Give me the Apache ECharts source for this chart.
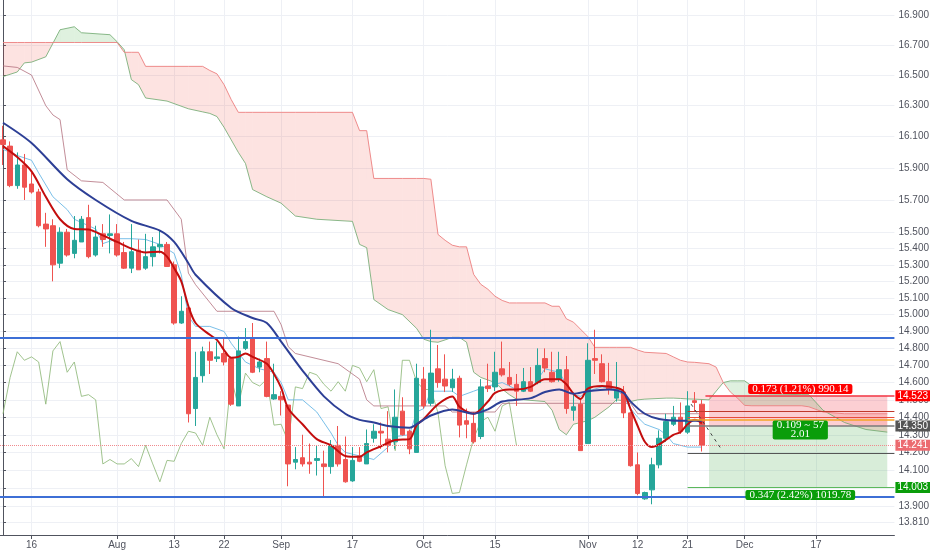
<!DOCTYPE html>
<html>
<head>
<meta charset="utf-8">
<title>Chart</title>
<script src="https://cdn.jsdelivr.net/npm/echarts@6/dist/echarts.min.js"></script>
<style>
  html, body { margin: 0; padding: 0; background: #fff; }
  #echart { width: 932px; height: 550px; }
</style>
</head>
<body>
<div id="echart"></div>
<script>
// x is the bar number, bar 0 = 10 Jul, weekdays only
var tickIdx = [4, 16, 24, 31, 39, 49, 59, 69, 82, 89, 96, 104, 114]
var tickText = ['16', 'Aug', '13', '22', 'Sep', '17', 'Oct', '15', 'Nov', '12', '21', 'Dec', '17']
var yTicks = [16.9, 16.7, 16.5, 16.3, 16.1, 15.9, 15.7, 15.5, 15.4, 15.3, 15.2, 15.1, 15.0, 14.9,
  14.8, 14.7, 14.6, 14.5, 14.4, 14.3, 14.2, 14.1, 14.0, 13.9, 13.81]

var opens = [16.08, 16.04, 15.79, 15.92, 15.80, 15.75, 15.55, 15.54, 15.31, 15.50,
  15.37, 15.44, 15.59, 15.36, 15.49, 15.48, 15.49, 15.375, 15.28, 15.39,
  15.28, 15.35, 15.41, 15.425, 15.30, 14.95, 15.04, 14.45, 14.64, 14.78,
  14.74, 14.77, 14.74, 14.465, 14.80, 14.86, 14.69, 14.74, 14.505, 14.52,
  14.47, 14.145, 14.17, 14.145, 14.155, 14.135, 14.12, 14.24, 14.16, 14.04,
  14.18, 14.135, 14.28, 14.32, 14.275, 14.26, 14.435, 14.32, 14.20, 14.62,
  14.48, 14.68, 14.62, 14.57, 14.625, 14.38, 14.365, 14.29, 14.58, 14.575,
  14.68, 14.63, 14.59, 14.55, 14.605, 14.60, 14.74, 14.66, 14.62, 14.675,
  14.44, 14.475, 14.25, 14.74, 14.71, 14.605, 14.51, 14.545, 14.425, 14.13,
  13.94, 13.99, 14.13, 14.28, 14.36, 14.40, 14.315, 14.495, 14.475]
var closes = [16.05, 15.79, 15.92, 15.78, 15.75, 15.54, 15.52, 15.30, 15.50, 15.36,
  15.45, 15.58, 15.35, 15.47, 15.455, 15.49, 15.36, 15.28, 15.38, 15.27,
  15.35, 15.41, 15.425, 15.29, 14.95, 15.02, 14.42, 14.63, 14.78, 14.73,
  14.75, 14.72, 14.475, 14.785, 14.84, 14.66, 14.72, 14.52, 14.53, 14.50,
  14.135, 14.16, 14.135, 14.135, 14.165, 14.12, 14.24, 14.135, 14.035, 14.155,
  14.15, 14.25, 14.32, 14.31, 14.24, 14.40, 14.30, 14.22, 14.625, 14.465,
  14.655, 14.60, 14.58, 14.62, 14.355, 14.36, 14.26, 14.575, 14.565, 14.66,
  14.645, 14.59, 14.55, 14.605, 14.55, 14.70, 14.685, 14.605, 14.675, 14.45,
  14.46, 14.21, 14.73, 14.73, 14.605, 14.56, 14.56, 14.425, 14.125, 13.97,
  13.975, 14.13, 14.28, 14.375, 14.40, 14.32, 14.465, 14.485, 14.241]
var lows = [15.92, 15.78, 15.77, 15.70, 15.74, 15.53, 15.41, 15.20, 15.28, 15.35,
  15.34, 15.44, 15.34, 15.35, 15.41, 15.37, 15.35, 15.275, 15.25, 15.27,
  15.27, 15.29, 15.37, 15.29, 14.94, 14.945, 14.37, 14.35, 14.60, 14.65,
  14.72, 14.70, 14.465, 14.465, 14.79, 14.655, 14.66, 14.515, 14.50, 14.41,
  14.01, 14.105, 14.12, 14.08, 14.07, 13.95, 14.08, 14.12, 14.03, 14.035,
  14.145, 14.135, 14.255, 14.22, 14.20, 14.22, 14.295, 14.19, 14.20, 14.45,
  14.465, 14.57, 14.545, 14.545, 14.285, 14.28, 14.25, 14.275, 14.545, 14.55,
  14.635, 14.58, 14.465, 14.545, 14.545, 14.59, 14.66, 14.60, 14.605, 14.42,
  14.38, 14.21, 14.25, 14.65, 14.60, 14.53, 14.49, 14.395, 14.12, 13.96,
  13.935, 13.91, 14.11, 14.26, 14.35, 14.305, 14.305, 14.435, 14.205]
var highs = [16.17, 16.07, 16.00, 15.99, 15.87, 15.77, 15.62, 15.58, 15.53, 15.52,
  15.60, 15.60, 15.67, 15.54, 15.55, 15.61, 15.55, 15.44, 15.55, 15.455,
  15.49, 15.47, 15.51, 15.44, 15.32, 15.11, 15.05, 14.78, 14.81, 14.84,
  14.84, 14.865, 14.75, 14.87, 14.92, 14.95, 14.74, 14.84, 14.71, 14.55,
  14.47, 14.23, 14.30, 14.25, 14.24, 14.21, 14.27, 14.35, 14.29, 14.23,
  14.23, 14.33, 14.36, 14.37, 14.435, 14.56, 14.515, 14.33, 14.71, 14.69,
  14.91, 14.82, 14.765, 14.68, 14.64, 14.45, 14.43, 14.62, 14.71, 14.78,
  14.84, 14.72, 14.65, 14.685, 14.69, 14.80, 14.80, 14.78, 14.78, 14.755,
  14.54, 14.50, 14.83, 14.91, 14.765, 14.715, 14.72, 14.58, 14.43, 14.20,
  13.98, 14.17, 14.325, 14.42, 14.465, 14.485, 14.55, 14.545, 14.50]

// moving averages
var fastX = [0, 2, 4, 6, 8, 10, 12, 14, 16, 18, 20, 22, 23, 24, 25, 26, 27, 29, 30, 31,
  32, 33, 34, 35, 37, 38, 39, 40, 42, 44, 46, 48, 50, 51, 53, 55, 57, 58, 59, 61,
  63, 64, 66, 68, 69, 71, 72, 74, 76, 78, 79, 80, 81, 82, 84, 86, 87, 88, 89, 90,
  91, 92, 94, 95, 96, 97, 98]
var fastY = [16.04, 15.97, 15.88, 15.72, 15.58, 15.52, 15.517, 15.48, 15.44, 15.40, 15.376, 15.38, 15.35, 15.28, 15.20, 15.05, 14.95, 14.88, 14.85, 14.79,
  14.745, 14.75, 14.77, 14.75, 14.71, 14.65, 14.57, 14.45, 14.36, 14.275, 14.24, 14.18, 14.175, 14.20, 14.235, 14.27, 14.275, 14.355, 14.39, 14.475,
  14.52, 14.46, 14.42, 14.49, 14.54, 14.56, 14.56, 14.575, 14.62, 14.62, 14.59, 14.535, 14.505, 14.565, 14.58, 14.57, 14.55, 14.446, 14.35, 14.26,
  14.23, 14.245, 14.30, 14.315, 14.36, 14.385, 14.365]
var slowX = [0, 4, 9, 13, 18, 22, 24, 26, 27, 32, 35, 37, 39, 42, 45, 48, 50, 52, 54, 57,
  58, 60, 63, 66, 68, 70, 74, 76, 78, 80, 82, 85, 87, 88, 90, 92, 95, 98]
var slowY = [16.19, 16.06, 15.83, 15.70, 15.57, 15.51, 15.44, 15.31, 15.24, 15.04, 14.98, 14.95, 14.84, 14.67, 14.52, 14.42, 14.385, 14.37, 14.35, 14.34,
  14.36, 14.41, 14.445, 14.42, 14.445, 14.49, 14.51, 14.545, 14.56, 14.535, 14.55, 14.56, 14.54, 14.49, 14.42, 14.39, 14.38, 14.38]

// ichimoku lines
var tenkanX = [0, 2, 4, 5, 7, 9, 10, 13, 14, 16, 18, 20, 22, 24, 25, 26, 27, 29, 31, 32,
  34, 36, 38, 39, 40, 42, 44, 46, 47, 48, 50, 52, 54, 55, 57, 58, 59, 60, 63, 64,
  66, 68, 70, 72, 74, 75, 76, 78, 79, 80, 81, 82, 84, 86, 87, 88, 89, 90, 92, 93,
  94, 96, 98]
var tenkanY = [16.02, 15.98, 15.95, 15.87, 15.72, 15.64, 15.58, 15.52, 15.43, 15.46, 15.46, 15.455, 15.425, 15.37, 15.24, 14.99, 14.93, 14.93, 14.90, 14.83,
  14.72, 14.68, 14.66, 14.60, 14.50, 14.50, 14.43, 14.31, 14.24, 14.20, 14.18, 14.16, 14.23, 14.29, 14.30, 14.43, 14.45, 14.55, 14.55, 14.52,
  14.55, 14.58, 14.60, 14.56, 14.56, 14.62, 14.68, 14.66, 14.59, 14.53, 14.52, 14.55, 14.575, 14.56, 14.52, 14.45, 14.40, 14.36, 14.33, 14.30,
  14.25, 14.23, 14.23]
var kijunX = [0, 2, 4, 6, 7, 8, 9, 11, 14, 17, 23, 25, 26, 27, 30, 38, 39, 40, 41, 47,
  50, 51, 52, 62, 63, 69, 70, 88, 89, 98]
var kijunY = [16.56, 16.55, 16.50, 16.30, 16.24, 16.21, 15.89, 15.82, 15.81, 15.70, 15.70, 15.58, 15.25, 15.18, 15.02, 15.02, 14.94, 14.81, 14.77, 14.71,
  14.62, 14.50, 14.465, 14.465, 14.43, 14.43, 14.48, 14.48, 14.42, 14.42]
var cloudIdx = [0, 2, 3, 4, 6, 8, 10, 11, 15, 16,
  17, 18, 19, 20, 23, 26, 28, 29, 30, 31,
  32, 33, 34, 35, 37, 39, 41, 44, 49, 50,
  51, 52, 54, 56, 58, 59, 60, 61, 62, 63,
  64, 65, 66, 67, 68, 69, 70, 71, 72, 76,
  77, 78, 79, 80, 82, 83, 85, 86, 88, 89,
  90, 93, 94, 95, 96, 97, 99, 100, 101, 102,
  103, 104, 105, 106, 112, 113, 115, 118, 121, 124]
var spanA = [16.49, 16.52, 16.58, 16.585, 16.62, 16.80, 16.82, 16.78, 16.767, 16.72,
  16.667, 16.47, 16.437, 16.35, 16.33, 16.28, 16.26, 16.25, 16.23, 16.16,
  16.08, 16.00, 15.93, 15.765, 15.72, 15.68, 15.60, 15.58, 15.567, 15.425,
  15.405, 15.09, 15.03, 15.00, 14.918, 14.854, 14.84, 14.836, 14.85, 14.865,
  14.865, 14.836, 14.66, 14.63, 14.615, 14.60, 14.562, 14.53, 14.504, 14.49,
  14.44, 14.33, 14.30, 14.36, 14.38, 14.40, 14.46, 14.50, 14.49, 14.50,
  14.504, 14.51, 14.51, 14.508, 14.505, 14.504, 14.50, 14.55, 14.60, 14.61,
  14.61, 14.61, 14.58, 14.535, 14.53, 14.53, 14.44, 14.37, 14.33, 14.315]
var spanB = [16.715, 16.715, 16.715, 16.715, 16.715, 16.715, 16.715, 16.715, 16.715, 16.715,
  16.65, 16.65, 16.65, 16.557, 16.557, 16.557, 16.557, 16.53, 16.508, 16.437,
  16.34, 16.257, 16.257, 16.257, 16.257, 16.257, 16.257, 16.257, 16.257, 16.139,
  16.139, 15.835, 15.835, 15.835, 15.835, 15.835, 15.83, 15.486, 15.45, 15.42,
  15.41, 15.41, 15.242, 15.182, 15.152, 15.11, 15.085, 15.07, 15.07, 15.07,
  15.05, 15.05, 14.975, 14.955, 14.87, 14.806, 14.806, 14.806, 14.806, 14.79,
  14.777, 14.77, 14.75, 14.73, 14.72, 14.718, 14.71, 14.69, 14.60, 14.545,
  14.51, 14.468, 14.466, 14.466, 14.466, 14.46, 14.43, 14.42, 14.42, 14.42]
var chikouShift = 26

// drawn levels and the short position tool
var levelPrices = [14.86, 13.945]
var lastPrice = 14.241
var toolLines = [14.435, 14.40, 14.385, 14.195]
var posPrices = [14.35, 14.523, 14.003] // entry, stop, target
var posTexts = ['0.173 (1.21%) 990.14', '0.109 ~ 57\n2.01', '0.347 (2.42%) 1019.78']

var UP = '#26a69a'
var DOWN = '#ef5350'
var AXIS = '#50535e'
var GRID = '#eef0f5'
var LABEL_FONT = 'Liberation Sans'
var BOX_FONT = 'Liberation Serif'

function pairs(xs, ys) {
  return xs.map(function (x, i) { return [x, ys[i]] })
}

function candleData() {
  return opens.map(function (o, i) { return [i, o, closes[i], lows[i], highs[i]] })
}

function chikouData() {
  return closes.slice(chikouShift).map(function (c, i) { return [i, c] })
}

function cloudData() {
  var out = []
  for (var k = 0; k < cloudIdx.length - 1; k++) {
    out.push([cloudIdx[k], spanA[k], spanB[k], cloudIdx[k + 1], spanA[k + 1], spanB[k + 1]])
  }
  return out
}

function renderCloud(params, api) {
  var red = 'rgba(244, 67, 54, 0.15)'
  var green = 'rgba(76, 175, 80, 0.18)'
  var x0 = api.value(0), a0 = api.value(1), b0 = api.value(2)
  var x1 = api.value(3), a1 = api.value(4), b1 = api.value(5)
  var pa0 = api.coord([x0, a0]), pb0 = api.coord([x0, b0])
  var pa1 = api.coord([x1, a1]), pb1 = api.coord([x1, b1])
  var d0 = a0 - b0, d1 = a1 - b1
  var children = []
  if (d0 * d1 < 0) {
    var e0 = pb0[1] - pa0[1], e1 = pb1[1] - pa1[1]
    var t = e0 / (e0 - e1)
    var px = [pa0[0] + t * (pa1[0] - pa0[0]), pa0[1] + t * (pa1[1] - pa0[1])]
    children.push({ type: 'polygon', shape: { points: [pa0, px, pb0] }, style: { fill: d0 > 0 ? green : red } })
    children.push({ type: 'polygon', shape: { points: [px, pa1, pb1] }, style: { fill: d1 > 0 ? green : red } })
  } else {
    children.push({ type: 'polygon', shape: { points: [pa0, pa1, pb1, pb0] }, style: { fill: d0 + d1 > 0 ? green : red } })
  }
  return { type: 'group', children: children }
}

function thinLine(name, data, color, width, opacity) {
  return {
    name: name,
    type: 'line',
    data: data,
    showSymbol: false,
    symbol: 'none',
    z: 2,
    lineStyle: { color: color, width: width, opacity: opacity },
    silent: true
  }
}

function axisTag(text, bg) {
  return {
    show: true,
    position: 'end',
    distance: 1,
    formatter: text,
    color: '#fff',
    backgroundColor: bg,
    padding: [1, 2, 0, 2],
    fontSize: 10,
    fontFamily: LABEL_FONT
  }
}

function toolLine(price, color, width, label) {
  return [
    { coord: [96, price], lineStyle: { color: color, width: width, type: 'solid' }, label: label || { show: false } },
    { coord: [125, price] }
  ]
}

function boxLabel(text, price, bg) {
  return {
    coord: [111.8, price],
    symbol: 'rect',
    symbolSize: 1,
    itemStyle: { color: 'rgba(0,0,0,0)' },
    label: {
      show: true,
      position: 'inside',
      formatter: text,
      color: '#fff',
      backgroundColor: bg,
      borderRadius: 2,
      padding: [1, 4, 0, 4],
      fontSize: 11,
      lineHeight: 9,
      fontFamily: BOX_FONT
    }
  }
}

function buildOption() {
  var entry = posPrices[0], stop = posPrices[1], target = posPrices[2]
  var marks = [
    { yAxis: levelPrices[0], lineStyle: { color: '#3d6fd6', width: 2, type: 'solid' }, label: { show: false } },
    { yAxis: levelPrices[1], lineStyle: { color: '#3d6fd6', width: 2, type: 'solid' }, label: { show: false } },
    { yAxis: lastPrice, lineStyle: { color: '#f08a8e', width: 1, type: 'dotted' }, label: axisTag(lastPrice.toFixed(3), '#ec6b70') },
    [
      { coord: [98.5, stop], lineStyle: { color: '#f23645', width: 1.5, type: 'solid' }, label: axisTag(stop.toFixed(3), '#ff0000') },
      { coord: [125, stop] }
    ],
    toolLine(toolLines[0], '#c0392b', 1),
    toolLine(toolLines[1], '#e74c3c', 1),
    toolLine(toolLines[2], '#f5a623', 1.5),
    toolLine(entry, '#7a7a7a', 1.5, axisTag(entry.toFixed(3), '#555555')),
    toolLine(toolLines[3], '#555555', 1),
    toolLine(target, '#5cb85c', 1, axisTag(target.toFixed(3), '#0a9d0a')),
    [
      { coord: [96.5, 14.475], lineStyle: { color: '#444', width: 1, type: [3, 4] }, label: { show: false } },
      { coord: [100.7, 14.22] }
    ]
  ]

  return {
    animation: false,
    backgroundColor: '#ffffff',
    grid: { left: 0, right: 29, top: 0, bottom: 14 },
    xAxis: {
      type: 'value',
      min: -0.42,
      max: 125,
      axisLine: { show: true, onZero: false, lineStyle: { color: AXIS } },
      axisTick: { show: true, customValues: tickIdx, length: 4, lineStyle: { color: AXIS } },
      axisLabel: {
        customValues: tickIdx,
        formatter: function (v) { return tickText[tickIdx.indexOf(v)] },
        fontSize: 10,
        fontFamily: LABEL_FONT,
        color: AXIS,
        margin: 5
      },
      splitLine: { show: true, lineStyle: { color: GRID } }
    },
    yAxis: {
      type: 'log',
      logBase: 10,
      position: 'right',
      min: 13.741,
      max: 17.0,
      axisLine: { show: true, lineStyle: { color: AXIS } },
      axisTick: { show: true, customValues: yTicks, length: 3, lineStyle: { color: AXIS } },
      axisLabel: {
        customValues: yTicks,
        formatter: function (v) { return Number(v).toFixed(3) },
        fontSize: 10,
        fontFamily: LABEL_FONT,
        color: AXIS,
        margin: 4
      },
      splitLine: { show: true, lineStyle: { color: GRID } }
    },
    series: [
      {
        name: 'cloud',
        type: 'custom',
        renderItem: renderCloud,
        data: cloudData(),
        encode: { x: [0, 3], y: [1, 2, 4, 5] },
        clip: true,
        silent: true,
        z: 1
      },
      thinLine('Span A', pairs(cloudIdx, spanA), '#6da86d', 1, 0.8),
      thinLine('Span B', pairs(cloudIdx, spanB), '#ec7f7f', 1, 0.9),
      thinLine('Lagging', chikouData(), '#8fb97a', 1, 0.85),
      thinLine('Base', pairs(kijunX, kijunY), '#b3707e', 1, 0.8),
      thinLine('Conversion', pairs(tenkanX, tenkanY), '#6cb8e6', 1, 0.9),
      {
        name: 'price',
        type: 'candlestick',
        data: candleData(),
        encode: { x: 0, y: [1, 2, 3, 4] },
        barWidth: 5,
        z: 3,
        clip: true,
        itemStyle: { color: UP, color0: DOWN, borderColor: UP, borderColor0: DOWN, borderWidth: 1 },
        markArea: {
          silent: true,
          data: [
            [{ coord: [99, stop], itemStyle: { color: 'rgba(242, 54, 69, 0.24)' } }, { coord: [124, entry] }],
            [{ coord: [99, entry], itemStyle: { color: 'rgba(76, 175, 80, 0.22)' } }, { coord: [124, target] }]
          ]
        },
        markLine: {
          silent: true,
          symbol: ['none', 'none'],
          data: marks
        },
        markPoint: {
          silent: true,
          data: [
            boxLabel(posTexts[0], 14.562, '#ff0000'),
            boxLabel(posTexts[1], 14.327, '#0a9d0a'),
            boxLabel(posTexts[2], 13.962, '#0a9d0a')
          ]
        }
      },
      {
        name: 'fast',
        type: 'line',
        data: pairs(fastX, fastY),
        showSymbol: false,
        symbol: 'none',
        smooth: 0.3,
        z: 4,
        lineStyle: { color: '#c30d0d', width: 2 }
      },
      {
        name: 'slow',
        type: 'line',
        data: pairs(slowX, slowY),
        showSymbol: false,
        symbol: 'none',
        smooth: 0.3,
        z: 4,
        lineStyle: { color: '#2d3f96', width: 2 }
      }
    ]
  }
}

var chart = echarts.init(document.getElementById('echart'))
chart.setOption(buildOption())
</script>
</body>
</html>
